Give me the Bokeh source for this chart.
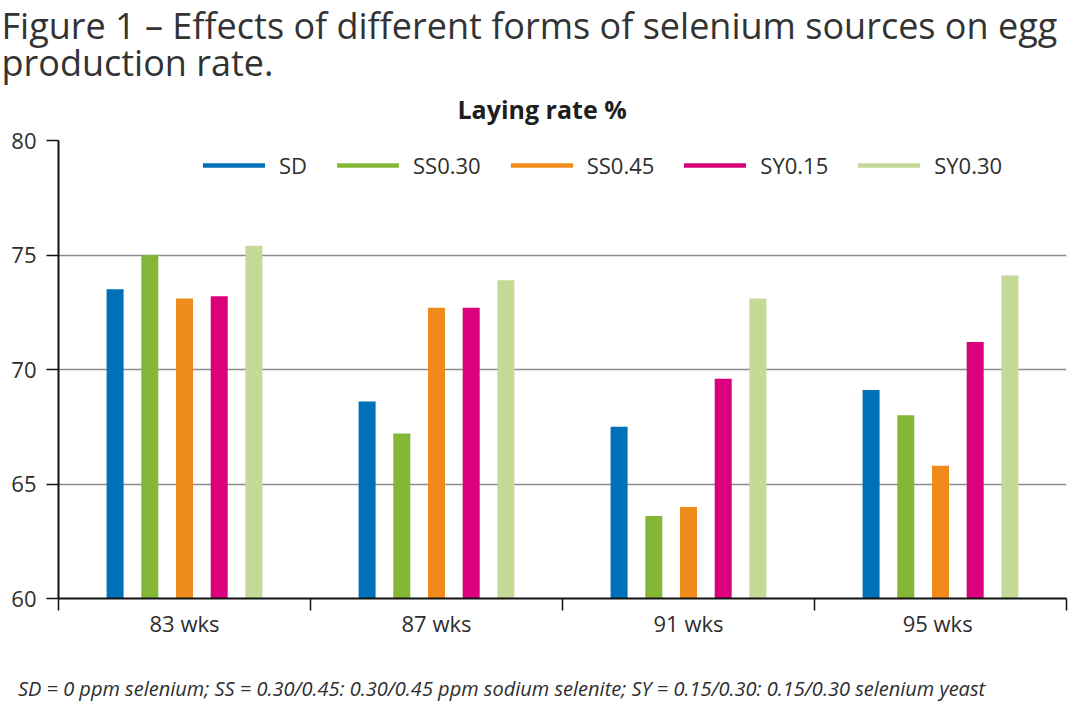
from bokeh.plotting import figure
from bokeh.models import (ColumnDataSource, Range1d, LinearAxis, FixedTicker,
                          Legend, LegendItem, Title, Grid)
from bokeh.transform import dodge
from bokeh.embed import file_html
from bokeh.resources import INLINE

# ---- data ----
categories = ["83 wks", "87 wks", "91 wks", "95  wks"]
series_names = ["SD", "SS0.30", "SS0.45", "SY0.15", "SY0.30"]
SD = [73.5, 68.6, 67.5, 69.1]
SS030 = [75.0, 67.2, 63.6, 68.0]
SS045 = [73.1, 72.7, 64.0, 65.8]
SY015 = [73.2, 72.7, 69.6, 71.2]
SY030 = [75.4, 73.9, 73.1, 74.1]
y_ticks = [60, 65, 70, 75, 80]

title_lines = ["Figure 1 \u2013 Effects of different forms of selenium sources on egg",
               "production rate."]
subtitle = "Laying rate %"
footnote = ("SD = 0 ppm selenium; SS = 0.30/0.45: 0.30/0.45 ppm sodium selenite; "
            "SY = 0.15/0.30: 0.15/0.30 selenium yeast")

colors = ["#0070B9", "#84B736", "#EE8B1B", "#DB007B", "#C5DA96"]
series_values = [SD, SS030, SS045, SY015, SY030]
cols = ["SD", "SS030", "SS045", "SY015", "SY030"]

FONT = "Open Sans"
TXT = "#2e2e2e"

data = {"x": list(range(len(categories)))}
for c, v in zip(cols, series_values):
    data[c] = v
src = ColumnDataSource(data)

p = figure(width=1080, height=705, output_backend="svg", toolbar_location=None,
           x_range=Range1d(-0.5, len(categories) - 0.5),
           y_range=Range1d(y_ticks[0], y_ticks[-1]),
           x_axis_type=None, y_axis_type=None,
           min_border_left=58, min_border_right=14,
           min_border_top=140, min_border_bottom=107)
p.outline_line_color = None
p.background_fill_color = "white"
p.border_fill_color = "white"

# y axis
yticker = FixedTicker(ticks=y_ticks, minor_ticks=[])
yax = LinearAxis(ticker=yticker)
yax.axis_line_color = "#111111"
yax.axis_line_width = 2
yax.major_tick_line_color = "#111111"
yax.major_tick_line_width = 1.5
yax.major_tick_out = 12
yax.major_tick_in = 0
yax.minor_tick_line_color = None
yax.major_label_text_font = FONT
yax.major_label_text_font_size = "22px"
yax.major_label_text_color = TXT
yax.major_label_standoff = 10
p.add_layout(yax, "left")
p.add_layout(Grid(dimension=1, ticker=yticker, grid_line_color="#8c8c8c",
                  grid_line_width=1.5))

# x axis: labels at centres, ticks at boundaries
bounds = [i - 0.5 for i in range(len(categories) + 1)]
xax = LinearAxis(ticker=FixedTicker(ticks=list(range(len(categories))), minor_ticks=bounds))
xax.major_label_overrides = {i: c for i, c in enumerate(categories)}
xax.axis_line_color = "#111111"
xax.axis_line_width = 2
xax.major_tick_line_color = None
xax.major_tick_out = 0
xax.major_tick_in = 0
xax.minor_tick_line_color = "#111111"
xax.minor_tick_line_width = 1.5
xax.minor_tick_out = 12
xax.minor_tick_in = 0
xax.major_label_text_font = FONT
xax.major_label_text_font_size = "22px"
xax.major_label_text_color = TXT
xax.major_label_standoff = -3
p.add_layout(xax, "below")

# footnote carried by a second, bare axis below the first
foot_x = 1.258
fax = LinearAxis(ticker=FixedTicker(ticks=[foot_x], minor_ticks=[]))
fax.major_label_overrides = {foot_x: footnote}
fax.axis_line_color = None
fax.major_tick_line_color = None
fax.minor_tick_line_color = None
fax.major_tick_out = 0
fax.major_tick_in = 0
fax.minor_tick_out = 0
fax.major_label_standoff = 34
fax.major_label_text_font = FONT
fax.major_label_text_font_size = "20px"
fax.major_label_text_font_style = "italic"
fax.major_label_text_color = TXT
p.add_layout(fax, "below")

# bars
pitch = 0.1377
bw = 0.0675
n = len(series_names)
for i, (c, col) in enumerate(zip(cols, colors)):
    off = (i - (n - 1) / 2) * pitch
    p.vbar(x=dodge("x", off, range=p.x_range), top=c, bottom=y_ticks[0], width=bw,
           source=src, fill_color=col, line_color=None)

# legend with line glyphs
nan = float("nan")
items = []
for name, col in zip(series_names, colors):
    r = p.line(x=[nan], y=[nan], line_color=col, line_width=4.5, line_cap="round")
    items.append(LegendItem(label=name, renderers=[r]))
leg = Legend(items=items, orientation="horizontal", location=(145, 418),
             glyph_width=62, glyph_height=20, label_standoff=14, spacing=30,
             padding=0, margin=0, border_line_color=None, background_fill_alpha=0,
             label_text_font=FONT, label_text_font_size="22px", label_text_color=TXT)
p.add_layout(leg, "center")

# titles (added nearest-first)
p.add_layout(Title(text=subtitle, align="left", offset=399,
                   text_font=FONT, text_font_size="25px", text_font_style="bold",
                   text_color="#1e1e1e", standoff=30), "above")
p.add_layout(Title(text=title_lines[1], align="left", offset=-57,
                   text_font=FONT, text_font_size="36px", text_font_style="normal",
                   text_color="#333333", standoff=-24), "above")
p.add_layout(Title(text=title_lines[0], align="left", offset=-57,
                   text_font=FONT, text_font_size="36px", text_font_style="normal",
                   text_color="#333333", standoff=-4), "above")

open("out.html", "w").write(file_html(p, INLINE))
